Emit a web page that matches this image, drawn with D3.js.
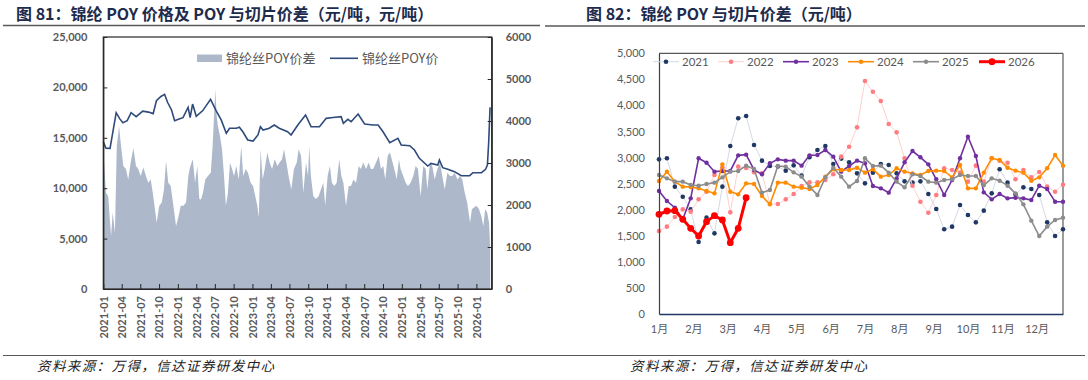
<!DOCTYPE html>
<html><head><meta charset="utf-8">
<script src="https://cdn.jsdelivr.net/npm/d3@7"></script>
<style>
body{margin:0;background:#fff;}
svg{display:block;}
</style></head><body>
<svg id="c" width="1088" height="380"></svg>
<script>
// ---------------- DATA ----------------
const titleLeft = "图 81：锦纶 POY 价格及 POY 与切片价差（元/吨，元/吨）";
const titleRight = "图 82：锦纶 POY 与切片价差（元/吨）";
const sourceText = "资料来源：万得，信达证券研发中心";
const seriesNameSpread = "锦纶丝POY价差";
const seriesNamePrice = "锦纶丝POY价";

const priceDates = ["2021-01-01","2021-01-14","2021-02-03","2021-03-05","2021-03-22","2021-04-07","2021-04-28","2021-05-17","2021-06-11","2021-07-13","2021-08-10","2021-09-02","2021-09-18","2021-10-10","2021-10-28","2021-11-12","2021-12-01","2021-12-16","2022-01-10","2022-01-26","2022-02-20","2022-03-02","2022-03-14","2022-04-01","2022-05-03","2022-06-10","2022-07-07","2022-08-01","2022-08-26","2022-09-11","2022-10-14","2022-10-29","2022-11-15","2022-12-09","2023-01-04","2023-01-28","2023-02-09","2023-02-22","2023-03-24","2023-04-18","2023-05-12","2023-06-22","2023-07-09","2023-08-11","2023-09-18","2023-10-15","2023-11-25","2023-12-28","2024-01-30","2024-03-10","2024-03-21","2024-04-12","2024-04-28","2024-06-01","2024-07-03","2024-08-13","2024-09-07","2024-10-01","2024-11-03","2024-12-13","2024-12-29","2025-02-09","2025-03-04","2025-03-28","2025-05-08","2025-05-24","2025-06-26","2025-07-04","2025-07-20","2025-08-14","2025-09-16","2025-10-19","2025-11-29","2025-12-15","2026-01-26","2026-02-15","2026-02-24","2026-03-02","2026-03-09"];
const priceValues = [14600,13960,13950,17490,16900,16500,16700,17490,17100,17650,17550,17400,18680,19100,19310,18500,17760,16700,16900,17000,18020,17000,18350,17130,17700,18820,17700,16770,15450,15950,15950,16050,15600,14780,14680,15280,16100,15770,15950,16270,15950,15600,15280,16270,17260,16100,16100,16930,17020,17100,16440,16830,16600,17360,16370,16270,16270,15600,14520,14950,14290,14220,13790,12960,12200,12460,12290,12800,12040,11870,11640,11240,11240,11540,11540,11870,12290,14450,18020];

const spreadDates = ["2021-01-01","2021-01-14","2021-01-25","2021-02-08","2021-02-16","2021-02-27","2021-03-08","2021-03-19","2021-03-29","2021-04-09","2021-04-22","2021-05-03","2021-05-15","2021-05-28","2021-06-10","2021-06-21","2021-07-03","2021-07-16","2021-07-29","2021-08-09","2021-08-21","2021-08-31","2021-09-11","2021-09-19","2021-10-02","2021-10-14","2021-10-25","2021-11-04","2021-11-15","2021-11-27","2021-12-10","2021-12-23","2022-01-03","2022-01-15","2022-01-28","2022-02-10","2022-02-21","2022-03-01","2022-03-15","2022-03-26","2022-04-06","2022-04-16","2022-04-24","2022-05-04","2022-05-15","2022-05-28","2022-06-11","2022-06-20","2022-06-27","2022-07-03","2022-07-10","2022-07-16","2022-07-26","2022-08-05","2022-08-15","2022-08-24","2022-09-03","2022-09-13","2022-09-23","2022-10-03","2022-10-14","2022-10-26","2022-11-07","2022-11-17","2022-11-29","2022-12-10","2022-12-23","2023-01-04","2023-01-15","2023-01-25","2023-02-01","2023-02-10","2023-02-20","2023-03-02","2023-03-15","2023-03-26","2023-04-07","2023-04-20","2023-05-03","2023-05-14","2023-05-26","2023-06-04","2023-06-16","2023-06-27","2023-07-10","2023-07-23","2023-08-06","2023-08-15","2023-08-27","2023-09-07","2023-09-20","2023-09-30","2023-10-06","2023-10-14","2023-10-26","2023-11-08","2023-11-21","2023-12-02","2023-12-14","2023-12-23","2024-01-04","2024-01-15","2024-01-25","2024-02-06","2024-02-17","2024-03-01","2024-03-11","2024-03-21","2024-04-03","2024-04-16","2024-04-27","2024-05-09","2024-05-22","2024-06-04","2024-06-15","2024-06-26","2024-07-10","2024-07-23","2024-08-03","2024-08-14","2024-08-28","2024-09-10","2024-09-21","2024-10-02","2024-10-12","2024-10-24","2024-11-04","2024-11-17","2024-11-30","2024-12-07","2024-12-18","2024-12-26","2025-01-08","2025-01-20","2025-01-31","2025-02-13","2025-02-26","2025-03-10","2025-03-21","2025-04-03","2025-04-16","2025-04-28","2025-05-06","2025-05-19","2025-05-30","2025-06-11","2025-06-24","2025-07-07","2025-07-18","2025-07-30","2025-08-12","2025-08-25","2025-09-05","2025-09-17","2025-09-30","2025-10-13","2025-10-24","2025-11-05","2025-11-17","2025-12-01","2025-12-10","2025-12-20","2026-01-02","2026-01-14","2026-01-25","2026-02-04","2026-02-13","2026-02-23","2026-03-04","2026-03-10"];
const spreadValues = [3330,2290,2210,1260,1820,1340,3400,3880,3400,2930,2860,2610,3010,3360,2930,2860,2690,2890,2690,2530,2610,2290,1900,1580,1980,2060,2370,3050,2530,2450,1980,1500,1700,1980,1980,2060,2690,2890,3090,2530,2930,2140,2130,2290,2610,2690,2770,3400,4120,4750,4120,3880,3640,3330,2690,1980,2290,3010,2860,2690,2930,2610,3400,2690,2860,2770,2530,2450,2210,1980,1700,3330,2610,2860,3250,3010,2860,3090,2930,3010,3090,3330,3010,2690,2370,2860,3010,3330,3170,2290,3010,2690,3400,2690,2210,2140,2210,2370,2530,1980,2690,2930,2530,2450,2530,3090,2690,2530,1980,2450,2450,2610,2530,2930,2860,3010,2860,3010,2860,2860,3010,3170,2860,2930,2610,3170,3250,3010,2770,2610,3090,2860,2690,2530,2450,2530,2690,2930,2860,2210,2930,2860,2370,3010,2930,2610,2860,3010,2690,2370,2770,2690,2690,2770,2610,2690,2610,2290,2060,1580,1900,1940,1980,1900,1740,1500,1900,1820,1580,945];

const leftAxisTicks = [0,5000,10000,15000,20000,25000];
const rightAxisTicks = [0,1000,2000,3000,4000,5000,6000];
const quarterTicks = ["2021-01","2021-04","2021-07","2021-10","2022-01","2022-04","2022-07","2022-10","2023-01","2023-04","2023-07","2023-10","2024-01","2024-04","2024-07","2024-10","2025-01","2025-04","2025-07","2025-10","2026-01"];

const yearNames = ["2021","2022","2023","2024","2025","2026"];
const spread2021 = [2966,2986,2442,2250,2007,1381,1848,1547,2442,3222,3753,3797,3241,2941,2838,2830,2749,2851,2653,3005,3145,3222,2877,2980,2909,2698,2506,2711,2877,2858,2698,2544,2519,2544,2301,2014,1624,1675,2090,1899,1758,1982,2314,2775,2519,2295,2429,2397,2282,1758,1496,1624];
const spread2022 = [1592,1675,1860,2007,1963,2200,2346,2666,2813,1950,2826,2800,2720,2700,2110,2110,2199,2301,2455,2525,2525,2570,2679,3018,3209,3580,4469,4264,4085,3644,3484,2986,2461,2154,1943,2282,2794,2762,2711,2538,2845,2538,2986,2941,2900,2583,2762,2621,2723,2442,2346,2480];
const spread2023 = [2359,2167,2039,1816,2218,2986,2902,2730,2743,2743,3043,3056,2762,2679,2890,2966,2941,2941,2845,3043,3050,3145,3018,2730,2838,2941,2890,2455,2410,2327,2600,2909,3126,3005,2870,2583,2282,2570,2986,3401,3030,2333,2199,2301,2218,2231,2218,2186,2461,2397,2154,2154];
const spread2024 = [2551,2730,2538,2442,2436,2410,2359,2314,2870,2346,2295,2506,2493,2263,2103,2519,2519,2442,2423,2397,2474,2634,2775,2762,2762,2806,2711,2775,2634,2666,2794,2730,2698,2666,2743,2749,2743,2621,2858,2410,2410,2711,2986,2954,2806,2749,2711,2557,2621,2794,3050,2845];
const spread2025 = [2666,2602,2538,2538,2474,2461,2493,2519,2621,2730,2743,2845,2781,2327,2378,2838,2826,2717,2634,2442,2282,2621,2806,2634,2442,2551,2986,2838,2845,2711,2538,2429,2679,2647,2538,2519,2570,2583,2666,2647,2647,2467,2602,2557,2461,2314,2103,1790,1496,1675,1803,1848];
const spread2026 = [1911,1975,1982,1816,1643,1496,1771,1886,1803,1368,1643,2231];
const monthLabels = ["1月","2月","3月","4月","5月","6月","7月","8月","9月","10月","11月","12月"];
const rightYTicks = [0,500,1000,1500,2000,2500,3000,3500,4000,4500,5000];

// ---------------- DRAW ----------------
const svg = d3.select("#c");
const parse = d3.timeParse("%Y-%m-%d");
const parseM = d3.timeParse("%Y-%m");
const CJK = "'Noto Sans CJK SC', sans-serif";
const NUM = "Lato, 'Noto Sans CJK SC', sans-serif";

// Titles
svg.append("text").attr("x",16).attr("y",20).text(titleLeft)
  .style("font-family",CJK).style("font-weight","bold").style("font-size","16px").style("fill","#1d2b4c");
svg.append("text").attr("x",586).attr("y",20).text(titleRight)
  .style("font-family",CJK).style("font-weight","bold").style("font-size","16px").style("fill","#1d2b4c");
svg.append("line").attr("x1",3).attr("x2",540).attr("y1",25.5).attr("y2",25.5).attr("stroke","#595959").attr("stroke-width",1.5);
svg.append("line").attr("x1",545).attr("x2",1085).attr("y1",26).attr("y2",26).attr("stroke","#595959").attr("stroke-width",1.5);
// bottom source
svg.append("line").attr("x1",3).attr("x2",1085).attr("y1",355.5).attr("y2",355.5).attr("stroke","#595959").attr("stroke-width",1.2);
[37,630].forEach(x=>{
  svg.append("text").attr("x",x).attr("y",371).text(sourceText)
   .style("font-family",CJK).style("font-style","italic").style("font-size","13.5px").style("letter-spacing","1.4px").style("fill","#222");
});

// ---- Left chart ----
const L = {l:103.3, r:491.7, t:37, b:289};
const xT = d3.scaleTime().domain([parse("2021-01-01"), parse("2026-03-17")]).range([L.l, L.r]);
const yL = d3.scaleLinear().domain([0,25000]).range([L.b, L.t]);
const yR = d3.scaleLinear().domain([0,6000]).range([L.b, L.t]);

const spreadData = spreadDates.map((d,i)=>({d:parse(d), v:spreadValues[i]}));
const priceData = priceDates.map((d,i)=>({d:parse(d), v:priceValues[i]}));

svg.append("path").datum(spreadData)
  .attr("d", d3.area().x(d=>xT(d.d)).y0(yR(0)).y1(d=>yR(d.v)))
  .attr("fill","#adb9ca");
svg.append("path").datum(priceData)
  .attr("d", d3.line().x(d=>xT(d.d)).y(d=>yL(d.v)))
  .attr("fill","none").attr("stroke","#2f4b7c").attr("stroke-width",1.6);

// frame
svg.append("rect").attr("x",L.l).attr("y",L.t).attr("width",L.r-L.l).attr("height",L.b-L.t)
  .attr("fill","none").attr("stroke","#262626").attr("stroke-width",1.2);

const axL = svg.append("g").attr("transform",`translate(${L.l},0)`)
  .call(d3.axisLeft(yL).tickValues(leftAxisTicks).tickFormat(d3.format(",")).tickSizeInner(-4).tickSizeOuter(0).tickPadding(16));
const axR = svg.append("g").attr("transform",`translate(${L.r},0)`)
  .call(d3.axisRight(yR).tickValues(rightAxisTicks).tickFormat(d3.format("d")).tickSizeInner(-4).tickSizeOuter(0).tickPadding(14));
const axB = svg.append("g").attr("transform",`translate(0,${L.b})`)
  .call(d3.axisBottom(xT).tickValues(quarterTicks.map(parseM)).tickFormat(d3.timeFormat("%Y-%m")).tickSizeInner(-5).tickSizeOuter(0));
[axL,axR,axB].forEach(g=>{
  g.select(".domain").attr("stroke","#262626").attr("stroke-width",1.2);
  g.selectAll(".tick line").attr("stroke","#262626");
  g.selectAll("text").style("font-family",NUM).style("font-weight","bold").style("font-size","11px").style("fill","#595959");
});
axB.selectAll("text").attr("transform","rotate(-90)").attr("text-anchor","end")
  .attr("x",-7).attr("y",0).attr("dy","0.35em");

// legend left
svg.append("rect").attr("x",197).attr("y",54.5).attr("width",25).attr("height",7.5).attr("fill","#adb9ca");
svg.append("text").attr("x",226).attr("y",58.3).attr("dy","0.35em").text(seriesNameSpread)
  .style("font-family",CJK).style("font-size","13px").style("fill","#595959");
svg.append("line").attr("x1",330).attr("x2",358).attr("y1",58.3).attr("y2",58.3).attr("stroke","#2f4b7c").attr("stroke-width",1.6);
svg.append("text").attr("x",362).attr("y",58.3).attr("dy","0.35em").text(seriesNamePrice)
  .style("font-family",CJK).style("font-size","13px").style("fill","#595959");

// ---- Right chart ----
const R = {l:659, r:1063, t:53.3, b:314};
const xW = d3.scaleLinear().domain([0,51]).range([R.l, R.r]);
const yW = d3.scaleLinear().domain([0,5000]).range([R.b, R.t]);

svg.append("line").attr("x1",R.l).attr("x2",R.r).attr("y1",R.t).attr("y2",R.t).attr("stroke","#595959").attr("stroke-width",1.2);
svg.append("line").attr("x1",R.r).attr("x2",R.r).attr("y1",R.t).attr("y2",R.b).attr("stroke","#595959").attr("stroke-width",1.2);

const styles = [
  {line:"#d3dae4", lw:1, dot:"#203864", r:2.3},
  {line:"#ffd0d0", lw:1, dot:"#ff7c80", r:2.3},
  {line:"#7030a0", lw:1.6, dot:"#7030a0", r:2.2},
  {line:"#ff8c00", lw:1.6, dot:"#ff8c00", r:2.2},
  {line:"#8c8c8c", lw:1.6, dot:"#8c8c8c", r:2.2},
  {line:"#ff0000", lw:3, dot:"#ff0000", r:3.4}
];
const allSeries = [spread2021,spread2022,spread2023,spread2024,spread2025,spread2026];
const lineW = d3.line().x((d,i)=>xW(i)).y(d=>yW(d));
allSeries.forEach((s,k)=>{
  const st = styles[k];
  const g = svg.append("g");
  g.append("path").datum(s).attr("d",lineW).attr("fill","none").attr("stroke",st.line).attr("stroke-width",st.lw);
  g.selectAll("circle").data(s).enter().append("circle")
    .attr("cx",(d,i)=>xW(i)).attr("cy",d=>yW(d)).attr("r",st.r).attr("fill",st.dot);
});

const axW = svg.append("g").attr("transform",`translate(${R.l},0)`)
  .call(d3.axisLeft(yW).tickValues(rightYTicks).tickFormat(d3.format(",")).tickSize(0).tickPadding(14));
axW.select(".domain").attr("stroke","#404040").attr("stroke-width",1.2);
axW.selectAll("text").style("font-family",NUM).style("font-size","11px").style("fill","#595959");
const axWB = svg.append("g").attr("transform",`translate(0,${R.b})`)
  .call(d3.axisBottom(xW).tickValues(monthLabels.map((m,i)=>i*52/12)).tickFormat((d,i)=>monthLabels[i]).tickSize(0).tickPadding(11));
axWB.select(".domain").attr("stroke","#1f3864").attr("stroke-width",1.6);
axWB.selectAll("text").style("font-family",NUM).style("font-size","11px").style("fill","#595959");

// legend right
const legX = [653,718,783,848,913,979];
yearNames.forEach((n,k)=>{
  const st = styles[k];
  svg.append("line").attr("x1",legX[k]).attr("x2",legX[k]+26).attr("y1",61.7).attr("y2",61.7)
    .attr("stroke",st.line).attr("stroke-width",st.lw);
  svg.append("circle").attr("cx",legX[k]+13).attr("cy",61.7).attr("r",st.r).attr("fill",st.dot);
  svg.append("text").attr("x",legX[k]+29).attr("y",61.7).attr("dy","0.35em").text(n)
    .style("font-family",NUM).style("font-size","11.5px").style("fill","#595959");
});
</script>
</body></html>
